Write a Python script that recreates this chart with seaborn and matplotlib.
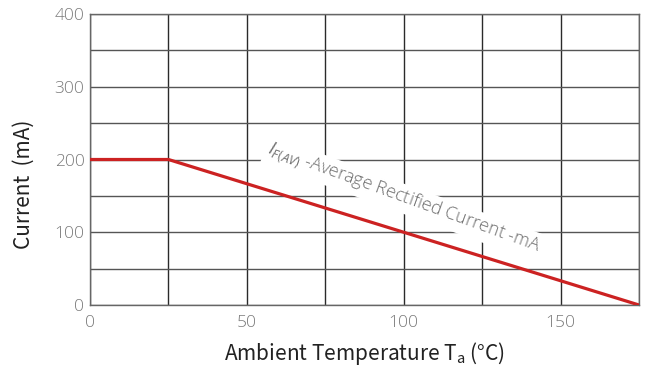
import matplotlib
matplotlib.use("Agg")
import matplotlib.pyplot as plt
import seaborn as sns
import pandas as pd
from matplotlib.ticker import MultipleLocator

temps = [0, 25, 175]
current = [200, 200, 0]
x_ticks = [0, 50, 100, 150]
y_ticks = [0, 100, 200, 300, 400]

sns.set_theme(style="white")
plt.rcParams['font.family'] = ['Noto Sans CJK SC', 'Open Sans', 'DejaVu Sans']
plt.rcParams['mathtext.fontset'] = 'custom'
plt.rcParams['mathtext.rm'] = 'Noto Sans CJK SC'
plt.rcParams['mathtext.it'] = 'Open Sans:italic'

fig = plt.figure(figsize=(6.48, 3.72), dpi=100)
ax = fig.add_axes([90/648, 1-305/372, (639-90)/648, (305-14)/372])

df = pd.DataFrame({"T": temps, "I": current})
sns.lineplot(data=df, x="T", y="I", ax=ax, color="#cc2222", linewidth=2.3, zorder=5)

ax.set_xlim(0, 175)
ax.set_ylim(0, 400)
ax.set_xticks(x_ticks)
ax.set_yticks(y_ticks)
ax.xaxis.set_minor_locator(MultipleLocator(25))
ax.yaxis.set_minor_locator(MultipleLocator(50))
ax.grid(which="both", axis="x", color="#2a2a2a", linewidth=1.0)
ax.grid(which="both", axis="y", color="#555555", linewidth=1.0)
ax.set_axisbelow(True)
for s in ax.spines.values():
    s.set_color("#666666")
    s.set_linewidth(1.0)
ax.tick_params(which="both", length=0)
ax.tick_params(axis="x", pad=7, labelsize=12.5, labelcolor="#7a7a7a")
ax.tick_params(axis="y", pad=4, labelsize=12.5, labelcolor="#7a7a7a")
for lab in ax.get_xticklabels() + ax.get_yticklabels():
    lab.set_family(['Open Sans', 'DejaVu Sans'])
    lab.set_fontweight("light")

ax.set_xlabel("Ambient Temperature T$_\\mathregular{a}$ (°C)", fontsize=15, color="#222222", labelpad=7)
ax.set_ylabel("Current  (mA)", fontsize=15, color="#222222")
ax.yaxis.set_label_coords(-0.100, 0.416)

ax.text(100, 146, "$I_{F(AV)}$ -Average Rectified Current -mA", rotation=-20,
        rotation_mode="anchor", ha="center", va="center", fontsize=13,
        color="#6e6e6e", fontweight="light", family=['Open Sans', 'DejaVu Sans'],
        bbox=dict(facecolor="white", edgecolor="none", pad=2), zorder=4)

fig.savefig("out.png", dpi=100)
